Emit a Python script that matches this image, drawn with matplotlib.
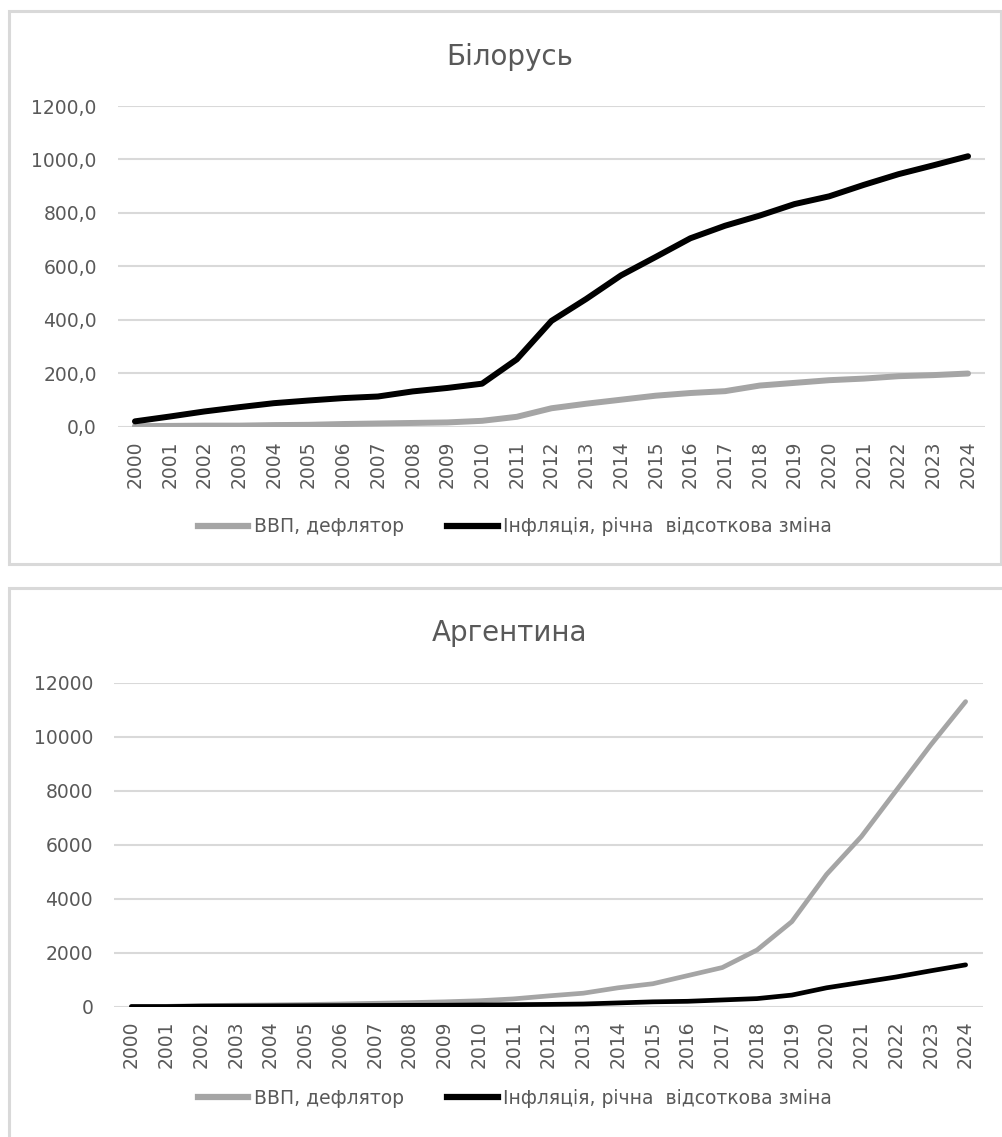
import matplotlib

matplotlib.use("Agg")
import matplotlib.pyplot as plt
from matplotlib.patches import Rectangle
from matplotlib.lines import Line2D
from matplotlib.ticker import FuncFormatter

YEARS = [str(y) for y in range(2000, 2025)]

BY_DEFLATOR = [2, 3, 4, 4, 6, 7, 10, 12, 14, 16, 22, 37, 69, 86, 101,
               116, 126, 133, 154, 164, 174, 180, 189, 193, 199]
BY_INFLATION = [20, 38, 57, 73, 88, 98, 107, 113, 132, 145, 161, 252, 396, 478, 566,
                635, 705, 752, 790, 833, 862, 905, 945, 978, 1012]

AR_DEFLATOR = [10, 12, 40, 55, 65, 80, 100, 125, 150, 180, 220, 290, 400, 500, 700,
               850, 1150, 1450, 2100, 3150, 4900, 6300, 8000, 9700, 11300]
AR_INFLATION = [5, 5, 20, 25, 30, 35, 40, 45, 50, 55, 65, 75, 85, 100, 140,
                180, 200, 250, 300, 430, 700, 900, 1100, 1330, 1550]

LABELS = ["ВВП, дефлятор", "Інфляція, річна  відсоткова зміна"]
GRAY = "#A5A5A5"
BLACK = "#000000"
TEXT = "#595959"
GRID = "#D9D9D9"

W, H = 1003, 1137
plt.rcParams["font.family"] = ["DejaVu Sans"]

fig = plt.figure(figsize=(W / 100, H / 100), dpi=100)


def px_box(x0, y0, x1, y1):
    # pixel box (top-left origin) -> figure fraction rect
    return [x0 / W, 1 - y1 / H, (x1 - x0) / W, (y1 - y0) / H]


def draw_panel(rect, title, title_y, legend_y, deflator, inflation, yticks, fmt, lw):
    ax = fig.add_axes(rect)
    x = range(len(YEARS))
    ax.plot(x, deflator, color=GRAY, lw=lw, solid_capstyle="round", zorder=3)
    ax.plot(x, inflation, color=BLACK, lw=lw, solid_capstyle="round", zorder=4)
    ax.set_xlim(-0.5, len(YEARS) - 0.5)
    ax.set_ylim(yticks[0], yticks[-1])
    ax.set_yticks(yticks)
    ax.yaxis.set_major_formatter(FuncFormatter(fmt))
    ax.set_xticks(list(x))
    ax.set_xticklabels(YEARS, rotation=90, va="top", ha="center")
    ax.grid(axis="y", color=GRID, lw=1.5, zorder=0)
    ax.set_axisbelow(True)
    for s in ax.spines.values():
        s.set_visible(False)
    ax.tick_params(axis="both", length=0, labelsize=13.5, labelcolor=TEXT)
    ax.tick_params(axis="y", pad=15)
    ax.tick_params(axis="x", pad=10)
    fig.text(510 / W, 1 - title_y / H, title, ha="center", va="baseline",
             fontsize=20, color=TEXT)
    handles = [Line2D([], [], color=GRAY, lw=4.5), Line2D([], [], color=BLACK, lw=4.5)]
    fig.legend(handles, LABELS, loc="center", bbox_to_anchor=(515 / W, 1 - legend_y / H),
               ncol=2, frameon=False, fontsize=13.5, labelcolor=TEXT,
               handlelength=2.7, handletextpad=0.3, columnspacing=2.3)
    return ax


# chart borders
for box in [(9.5, 11, 1001, 564), (9.5, 588, 1015, 1150)]:
    r = px_box(*box)
    fig.patches.append(Rectangle((r[0], r[1]), r[2], r[3], transform=fig.transFigure,
                                 fill=False, ec=GRID, lw=2.2, zorder=0))

draw_panel(px_box(117.6, 106, 985.4, 426.7), "Білорусь", 65, 527,
           BY_DEFLATOR, BY_INFLATION, list(range(0, 1201, 200)),
           lambda v, p: f"{v:.1f}".replace(".", ","), 4.3)

draw_panel(px_box(114, 682.7, 983, 1006.7), "Аргентина", 641, 1098,
           AR_DEFLATOR, AR_INFLATION, list(range(0, 12001, 2000)),
           lambda v, p: f"{v:.0f}", 3.4)

fig.savefig("out.png", dpi=100)
